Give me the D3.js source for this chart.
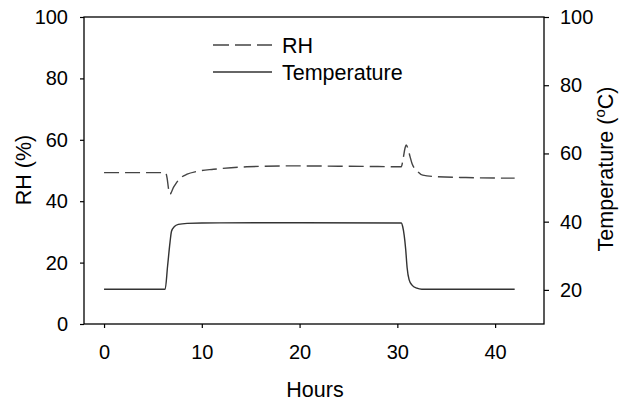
<!DOCTYPE html>
<html>
<head>
<meta charset="utf-8">
<script src="https://cdn.jsdelivr.net/npm/d3@7"></script>
<style>
  body { margin: 0; background: #fff; }
  svg { font-family: "Liberation Sans", Arial, sans-serif; }
</style>
</head>
<body>
<svg id="chart" width="619" height="405"></svg>
<script>
// --- DATA ---
const rhHours = [0, 6.3, 6.45, 6.6, 6.75, 6.9, 7.1, 7.3, 7.7, 8.5, 9.5, 11.2, 13, 14.6, 19, 24, 28, 30.4,
                 30.6, 30.8, 30.9, 31.1, 31.3, 31.5, 32.1, 32.6, 34, 37, 42];
const rhValues = [49.3, 49.3, 47.5, 44, 42.3, 43, 44.5, 45.5, 47.2, 48.8, 49.7, 50.4, 50.9, 51.2, 51.5, 51.4, 51.3, 51.2,
                  54, 57.5, 58.3, 57, 54.5, 52.3, 49.6, 48.5, 48, 47.7, 47.5];

const tempHours = [0, 6.25, 6.5, 6.75, 6.9, 7.2, 7.6, 8.5, 10, 20, 30.4,
                   30.55, 30.7, 30.85, 31.0, 31.2, 31.5, 32, 32.5, 36, 42];
const tempValues = [20.2, 20.2, 27, 34, 37.2, 38.6, 39.2, 39.5, 39.6, 39.7, 39.6,
                    38.5, 36, 32, 26.5, 23, 21.4, 20.5, 20.2, 20.2, 20.2];

const xTicks = [0, 10, 20, 30, 40];
const rhTicks = [0, 20, 40, 60, 80, 100];
const tempTicks = [20, 40, 60, 80, 100];
const legendLabels = ["RH", "Temperature"];

// --- LAYOUT ---
const svg = d3.select("#chart");
const plotLeft = 84, plotRight = 544, plotTop = 17, plotBottom = 324;
const titleSize = 21.5;

const x = d3.scaleLinear().domain([-2.05, 45]).range([plotLeft, plotRight]);
const yRH = d3.scaleLinear().domain([0, 100]).range([plotBottom, plotTop]);
const yTemp = d3.scaleLinear().domain([10, 100]).range([plotBottom, plotTop]);

// frame
svg.append("rect")
  .attr("x", plotLeft).attr("y", plotTop)
  .attr("width", plotRight - plotLeft).attr("height", plotBottom - plotTop)
  .attr("fill", "none").attr("stroke", "#000").attr("stroke-width", 1.3);

// axes
const styleAxis = g => {
  g.select(".domain").remove();
  g.selectAll(".tick line").attr("stroke", "#000").attr("stroke-width", 1.2);
  g.selectAll(".tick text").attr("font-size", 20).attr("fill", "#000");
};

svg.append("g")
  .attr("transform", `translate(0,${plotBottom})`)
  .call(d3.axisBottom(x).tickValues(xTicks).tickSize(4).tickPadding(17))
  .call(styleAxis);

svg.append("g")
  .attr("transform", `translate(${plotLeft},0)`)
  .call(d3.axisLeft(yRH).tickValues(rhTicks).tickSize(4).tickPadding(12))
  .call(styleAxis);

svg.append("g")
  .attr("transform", `translate(${plotRight},0)`)
  .call(d3.axisRight(yTemp).tickValues(tempTicks).tickSize(5).tickPadding(11))
  .call(styleAxis);

// axis titles
svg.append("text")
  .attr("x", 315).attr("y", 397)
  .attr("text-anchor", "middle").attr("font-size", titleSize)
  .text("Hours");

svg.append("text")
  .attr("transform", "translate(31,170) rotate(-90)")
  .attr("text-anchor", "middle").attr("font-size", titleSize)
  .text("RH (%)");

const tLabel = svg.append("text")
  .attr("transform", "translate(613,169) rotate(-90)")
  .attr("text-anchor", "middle").attr("font-size", titleSize);
tLabel.append("tspan").text("Temperature (");
tLabel.append("tspan").attr("font-size", 15).attr("dy", -8).text("o");
tLabel.append("tspan").attr("dy", 8).text("C)");

// lines
const rhLine = d3.line()
  .x((d, i) => x(rhHours[i]))
  .y(d => yRH(d))
  .curve(d3.curveMonotoneX);

const tempLine = d3.line()
  .x((d, i) => x(tempHours[i]))
  .y(d => yTemp(d))
  .curve(d3.curveMonotoneX);

svg.append("path")
  .datum(rhValues)
  .attr("d", rhLine)
  .attr("fill", "none").attr("stroke", "#444")
  .attr("stroke-width", 1.4)
  .attr("stroke-dasharray", "15,6");

svg.append("path")
  .datum(tempValues)
  .attr("d", tempLine)
  .attr("fill", "none").attr("stroke", "#333")
  .attr("stroke-width", 1.4);

// legend
const legend = svg.append("g");
legendLabels.forEach((label, i) => {
  const ly = 45 + i * 27;
  legend.append("line")
    .attr("x1", 213).attr("x2", 272)
    .attr("y1", ly).attr("y2", ly)
    .attr("stroke", i === 0 ? "#444" : "#333")
    .attr("stroke-width", 1.4)
    .attr("stroke-dasharray", i === 0 ? "16,6" : null);
  legend.append("text")
    .attr("x", 282).attr("y", ly + 7.5)
    .attr("font-size", titleSize)
    .text(label);
});
</script>
</body>
</html>
